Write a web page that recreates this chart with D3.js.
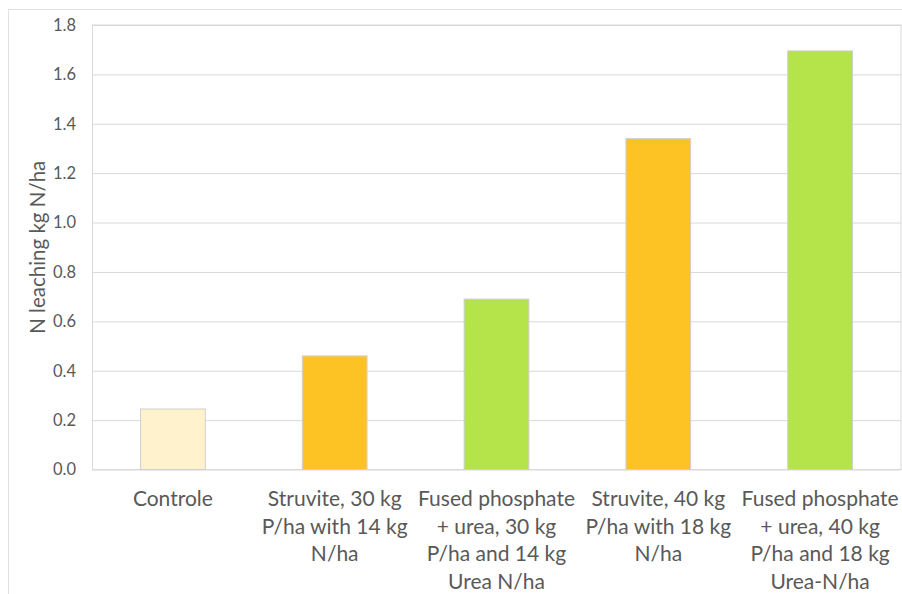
<!DOCTYPE html>
<html>
<head>
<meta charset="utf-8">
<script src="https://cdn.jsdelivr.net/npm/d3@7"></script>
<style>
  html, body { margin: 0; padding: 0; background: #fff; }
  svg { display: block; font-family: Lato, "Open Sans", sans-serif; }
</style>
</head>
<body>
<svg id="chart" width="902" height="594"></svg>
<script>
const categories = [
  ["Controle"],
  ["Struvite, 30 kg", "P/ha with 14 kg", "N/ha"],
  ["Fused phosphate", "+ urea, 30 kg", "P/ha and 14 kg", "Urea N/ha"],
  ["Struvite, 40 kg", "P/ha with 18 kg", "N/ha"],
  ["Fused phosphate", "+ urea, 40 kg", "P/ha and 18 kg", "Urea-N/ha"]
];
const values = [0.245, 0.46, 0.69, 1.34, 1.695];
const barColors = ["#FFF2CC", "#FDC325", "#B4E34A", "#FDC325", "#B4E34A"];
const yTicks = [0, 0.2, 0.4, 0.6, 0.8, 1.0, 1.2, 1.4, 1.6, 1.8];
const yTitle = "N leaching kg N/ha";

const svg = d3.select("#chart");
const W = 902, H = 594;
const plot = { left: 92, right: 901, top: 25, bottom: 469.5 };

// outer chart frame
svg.append("path")
  .attr("d", `M8.5,${H} L8.5,9.5 L${W},9.5`)
  .attr("fill", "none").attr("stroke", "#e0e0e0").attr("stroke-width", 1);

const x = d3.scaleBand()
  .domain(d3.range(categories.length))
  .range([plot.left, plot.right])
  .paddingInner(0.6).paddingOuter(0.3);

const y = d3.scaleLinear().domain([0, 1.8]).range([plot.bottom, plot.top]);

// gridlines
const yAxis = d3.axisLeft(y).tickValues(yTicks).tickFormat(d3.format(".1f"))
  .tickSize(-(plot.right - plot.left)).tickPadding(16);
const gy = svg.append("g").attr("transform", `translate(${plot.left},0)`).call(yAxis);
gy.select(".domain").remove();
gy.selectAll(".tick line").attr("stroke", "#d9d9d9").attr("stroke-width", 1);
gy.selectAll(".tick text").attr("fill", "#595959").attr("font-size", 16.5)
  .attr("font-family", "Lato, 'Open Sans', sans-serif");

// plot border
svg.append("rect")
  .attr("x", plot.left + 0.5).attr("y", plot.top)
  .attr("width", plot.right - plot.left - 0.5).attr("height", plot.bottom - plot.top)
  .attr("fill", "none").attr("stroke", "#d9d9d9").attr("stroke-width", 1);

// bars
svg.append("g").selectAll("rect")
  .data(values)
  .join("rect")
  .attr("x", (d, i) => x(i))
  .attr("width", x.bandwidth())
  .attr("y", d => y(d))
  .attr("height", d => y(0) - y(d))
  .attr("fill", (d, i) => barColors[i])
  .attr("stroke", "#cfcfcf")
  .attr("stroke-width", 1);

// category labels
const xAxis = d3.axisBottom(x).tickSize(0).tickFormat("");
const gx = svg.append("g").attr("transform", `translate(0,${plot.bottom})`).call(xAxis);
gx.select(".domain").remove();
gx.selectAll(".tick").each(function(d) {
  const t = d3.select(this).append("text")
    .attr("fill", "#595959")
    .attr("font-size", 21)
    .attr("text-anchor", "middle")
    .attr("font-family", "Lato, 'Open Sans', sans-serif");
  categories[d].forEach((line, k) => {
    t.append("tspan").attr("x", 0).attr("y", 36.5 + k * 27.5).text(line);
  });
});

// y axis title
svg.append("text")
  .attr("transform", `translate(45,${(plot.top + plot.bottom) / 2}) rotate(-90)`)
  .attr("text-anchor", "middle")
  .attr("fill", "#595959")
  .attr("font-size", 20.5)
  .text(yTitle);
</script>
</body>
</html>
